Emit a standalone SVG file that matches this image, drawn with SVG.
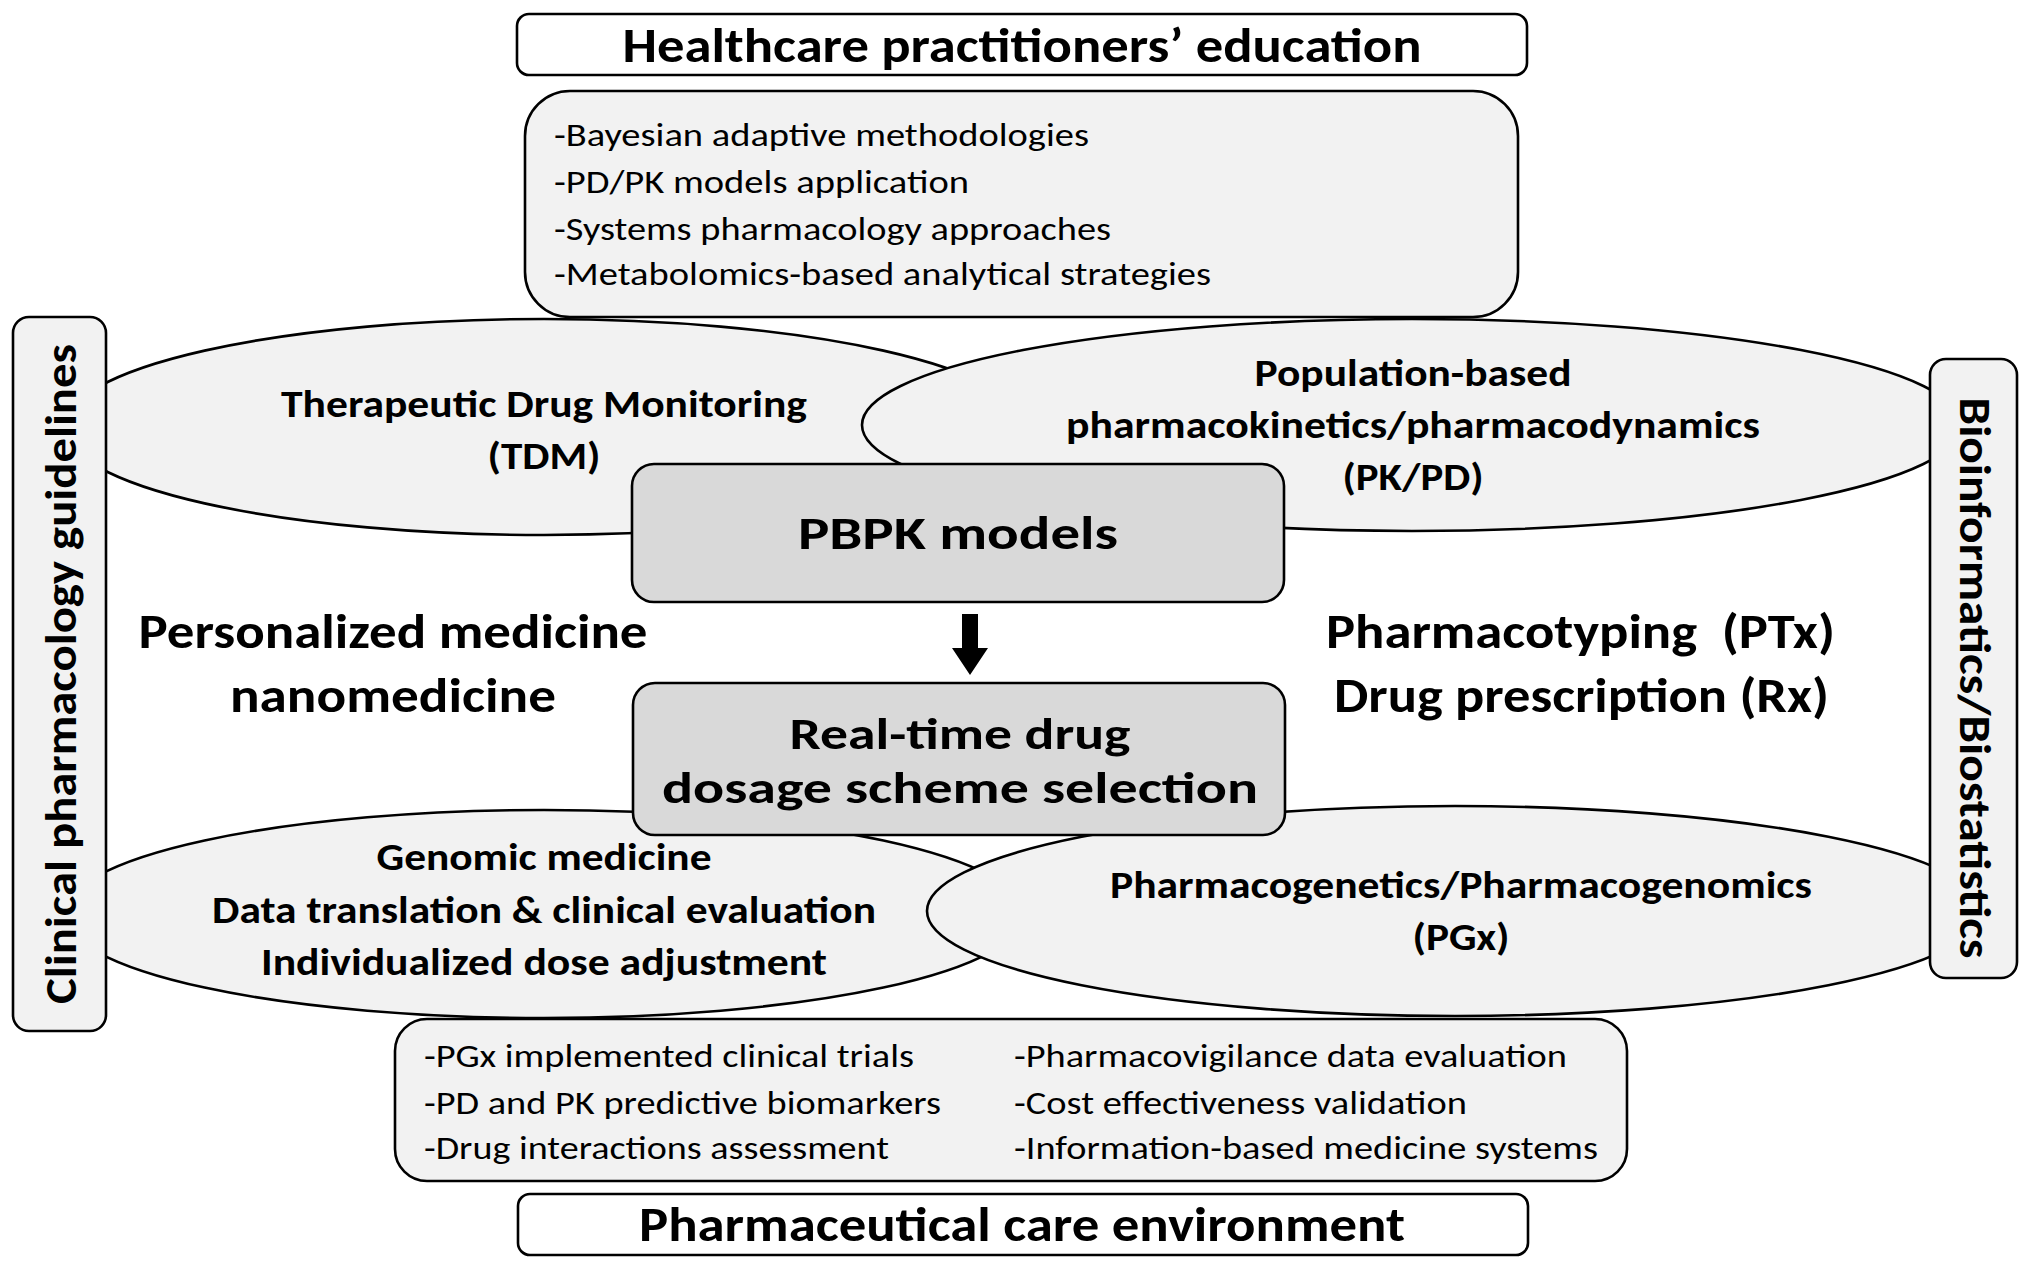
<svg xmlns="http://www.w3.org/2000/svg" width="2031" height="1269" viewBox="0 0 2031 1269">
<style>
text{font-family:Carlito,"Open Sans","Liberation Sans",sans-serif;fill:#000}
.b{font-weight:bold}
.c{text-anchor:middle}
.sh{stroke:#000;stroke-width:2.6}
.lt{fill:#f2f2f2}
.dk{fill:#d9d9d9}
.wh{fill:#fff}
</style>
<rect width="2031" height="1269" fill="#fff"/>
<g id="tdm">
<ellipse class="sh lt" cx="544" cy="427" rx="480" ry="108"/>
<text class="b c" x="544" y="417" font-size="38" textLength="526" lengthAdjust="spacingAndGlyphs">Therapeutic Drug Monitoring</text>
<text class="b c" x="544" y="469" font-size="38" textLength="113" lengthAdjust="spacingAndGlyphs">(TDM)</text>
</g>
<g id="pkpd">
<ellipse class="sh lt" cx="1412" cy="425" rx="550" ry="106"/>
<text class="b c" x="1413" y="386" font-size="38" textLength="317" lengthAdjust="spacingAndGlyphs">Population-based</text>
<text class="b c" x="1413" y="438" font-size="38" textLength="694" lengthAdjust="spacingAndGlyphs">pharmacokinetics/pharmacodynamics</text>
<text class="b c" x="1413" y="490" font-size="38" textLength="141" lengthAdjust="spacingAndGlyphs">(PK/PD)</text>
</g>
<g id="edu-list">
<rect class="sh lt" x="525" y="91" width="993" height="226" rx="45"/>
<text x="554" y="146" font-size="33" textLength="535" lengthAdjust="spacingAndGlyphs">-Bayesian adaptive methodologies</text>
<text x="554" y="193" font-size="33" textLength="415" lengthAdjust="spacingAndGlyphs">-PD/PK models application</text>
<text x="554" y="240" font-size="33" textLength="557" lengthAdjust="spacingAndGlyphs">-Systems pharmacology approaches</text>
<text x="554" y="285" font-size="33" textLength="657" lengthAdjust="spacingAndGlyphs">-Metabolomics-based analytical strategies</text>
</g>
<g id="genomic">
<ellipse class="sh lt" cx="544" cy="914" rx="480" ry="104"/>
<text class="b c" x="544" y="870" font-size="38" textLength="335" lengthAdjust="spacingAndGlyphs">Genomic medicine</text>
<text class="b c" x="544" y="923" font-size="38" textLength="664" lengthAdjust="spacingAndGlyphs">Data translation &amp; clinical evaluation</text>
<text class="b c" x="544" y="975" font-size="38" textLength="566" lengthAdjust="spacingAndGlyphs">Individualized dose adjustment</text>
</g>
<g id="pgx">
<ellipse class="sh lt" cx="1455" cy="911" rx="528" ry="105"/>
<text class="b c" x="1461" y="898" font-size="38" textLength="702" lengthAdjust="spacingAndGlyphs">Pharmacogenetics/Pharmacogenomics</text>
<text class="b c" x="1461" y="950" font-size="38" textLength="97" lengthAdjust="spacingAndGlyphs">(PGx)</text>
</g>
<g id="pbpk">
<rect class="sh dk" x="632" y="464" width="652" height="138" rx="22"/>
<text class="b c" x="958" y="549" font-size="47" textLength="320" lengthAdjust="spacingAndGlyphs">PBPK models</text>
</g>
<g id="realtime">
<rect class="sh dk" x="633" y="683" width="652" height="152" rx="22"/>
<text class="b c" x="960" y="749" font-size="45" textLength="341" lengthAdjust="spacingAndGlyphs">Real-time drug</text>
<text class="b c" x="960" y="803" font-size="45" textLength="596" lengthAdjust="spacingAndGlyphs">dosage scheme selection</text>
</g>
<g id="connectors">
<polygon points="962,614 978,614 978,648 988,648 970,675 952,648 962,648" fill="#000"/>
</g>
<g id="personalized">
<text class="b c" x="393" y="648" font-size="48" textLength="509" lengthAdjust="spacingAndGlyphs">Personalized medicine</text>
<text class="b c" x="393" y="712" font-size="48" textLength="326" lengthAdjust="spacingAndGlyphs">nanomedicine</text>
</g>
<g id="pharmacotyping">
<text class="b" x="1326" y="648" font-size="48" textLength="509" lengthAdjust="spacingAndGlyphs">Pharmacotyping&#160; (PTx)</text>
<text class="b" x="1334" y="712" font-size="48" textLength="495" lengthAdjust="spacingAndGlyphs">Drug prescription (Rx)</text>
</g>
<g id="care-list">
<rect class="sh lt" x="395" y="1019" width="1232" height="162" rx="32"/>
<text x="424" y="1067" font-size="33" textLength="490" lengthAdjust="spacingAndGlyphs">-PGx implemented clinical trials</text>
<text x="424" y="1114" font-size="33" textLength="517" lengthAdjust="spacingAndGlyphs">-PD and PK predictive biomarkers</text>
<text x="424" y="1159" font-size="33" textLength="465" lengthAdjust="spacingAndGlyphs">-Drug interactions assessment</text>
<text x="1014" y="1067" font-size="33" textLength="553" lengthAdjust="spacingAndGlyphs">-Pharmacovigilance data evaluation</text>
<text x="1014" y="1114" font-size="33" textLength="453" lengthAdjust="spacingAndGlyphs">-Cost effectiveness validation</text>
<text x="1014" y="1159" font-size="33" textLength="584" lengthAdjust="spacingAndGlyphs">-Information-based medicine systems</text>
</g>
<g id="guidelines">
<rect class="sh lt" x="13" y="317" width="93" height="714" rx="16"/>
<text class="b c" transform="translate(76,674) rotate(-90)" font-size="45" textLength="660" lengthAdjust="spacingAndGlyphs">Clinical pharmacology guidelines</text>
</g>
<g id="bioinformatics">
<rect class="sh lt" x="1930" y="359" width="87" height="619" rx="16"/>
<text class="b c" transform="translate(1960,678) rotate(90)" font-size="45" textLength="561" lengthAdjust="spacingAndGlyphs">Bioinformatics/Biostatistics</text>
</g>
<g id="education">
<rect class="sh wh" x="517" y="14" width="1010" height="61" rx="12"/>
<text class="b c" x="1022" y="62" font-size="48" textLength="799" lengthAdjust="spacingAndGlyphs">Healthcare practitioners’ education</text>
</g>
<g id="care">
<rect class="sh wh" x="518" y="1194" width="1010" height="61" rx="12"/>
<text class="b c" x="1022" y="1241" font-size="48" textLength="766" lengthAdjust="spacingAndGlyphs">Pharmaceutical care environment</text>
</g>
</svg>
